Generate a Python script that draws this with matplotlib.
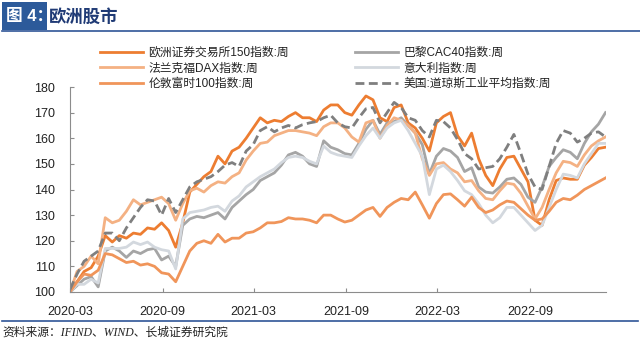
import matplotlib
matplotlib.use("Agg")
import matplotlib.pyplot as plt
import matplotlib.dates as mdates
import pandas as pd
import numpy as np

plt.rcParams['font.family'] = ['Liberation Sans', 'Noto Sans CJK SC', 'DejaVu Sans']

# ---- data (bi-weekly readings, index = 100 at start) ----
start_date = "2020-03-20"
n_points = 77

euronext150 = [100, 104, 108, 109.5, 114, 122, 119.5, 122, 121, 123, 122.5, 125, 124.5, 127, 124, 117.5,
               127, 139, 142, 145, 147, 153, 150, 155, 156.5, 160, 164, 168, 166, 167, 166.5, 168.5,
               170, 168, 168, 166.5, 171, 173, 173, 170, 169, 173, 176.5, 175, 168, 166.5, 172, 173,
               166, 164, 160, 155, 166, 168.5, 170, 161, 157, 162, 152, 145.5, 141.5, 148, 152.5, 153,
               148, 143, 128, 126, 136, 143.5, 144.5, 144, 144, 149.5, 152.5, 156, 156.5]
cac40 = [100, 102.5, 105, 106, 102, 116, 117.5, 116, 113.5, 116, 115, 116.5, 117, 112.5, 114, 110,
         126, 128.5, 129.5, 129, 130, 131, 128.5, 133, 135.5, 138, 140, 143.5, 145, 146.5, 149.5, 153.5,
         154.5, 153, 150, 149, 159, 156.5, 155.5, 154, 153.5, 158, 163.5, 167, 161.5, 166, 166.5, 168,
         165, 162, 157.5, 146, 153, 156, 155, 152.5, 147, 148.5, 141, 139, 138.6, 141, 144, 144.5,
         142, 137, 135, 141, 149, 152.5, 155.5, 154.5, 152, 158, 162.5, 165.5, 170]
dax = [100, 108, 110, 114, 111, 129, 127, 128, 131.5, 136, 134, 135, 136, 137, 134.5, 128,
       134.5, 139.5, 140.5, 139, 141.5, 143, 142.5, 145, 146.5, 151.5, 155, 158, 158.5, 161, 162, 163,
       163, 162.5, 162, 161, 164.5, 166, 166, 164, 160.5, 158.5, 166, 167, 160, 165, 168, 167,
       165, 162, 152, 145.5, 150, 150.5, 148, 146.5, 143, 143.5, 139.5, 136.5, 136, 139.5, 142.5, 142,
       138.5, 133.5, 128.5, 133, 140, 146.5, 151, 150.5, 149, 153.5, 157, 159, 160.5]
italy = [100, 103, 103, 105, 103.5, 117, 117, 117, 117.5, 119.5, 118.5, 119.5, 117.5, 116.5, 116, 109,
         128.5, 131, 131.5, 132, 133, 133.5, 131.5, 135.5, 137.5, 141, 143, 145, 146.5, 148, 150.5, 152.5,
         153, 152.5, 151, 150, 157, 154.5, 153.5, 153, 152.5, 157, 161, 164, 160, 164, 166, 167,
         163, 158, 153, 138, 148, 149.5, 147, 143.5, 139.5, 138, 134.5, 130, 127, 129, 133, 133,
         130, 127, 124, 126, 133, 140, 146, 145.5, 144.5, 150, 154, 158, 158]
ftse100 = [100, 104, 107, 106.5, 108.5, 115, 114.5, 113, 111.5, 112, 110.5, 111, 110, 107.5, 107, 104,
           110, 116, 119, 120, 119, 122.5, 119.5, 121, 121, 123, 123.5, 125, 127, 127, 127.5, 129,
           128.5, 128.5, 128, 127, 130, 130, 128.5, 127.3, 128, 130, 132, 133, 129.5, 133, 135, 136.5,
           136, 139, 134, 128.8, 134.5, 138, 138.3, 136, 133.5, 137, 133, 131, 132, 134, 135.5, 135,
           132.5, 130, 128, 128.5, 131.5, 135, 136.5, 136, 137.8, 140, 141.5, 143, 144.5]
dow = [101, 107, 112, 114, 116, 123, 123, 120, 125, 129, 133, 136, 135.5, 130, 136.5, 131,
       136, 141, 143, 144, 145, 147, 149.5, 150.5, 149, 155, 157.5, 163, 164.5, 162.5, 164, 165,
       164, 165.3, 166, 166.5, 168, 169, 166, 164.5, 164, 168, 171.5, 172, 166, 170, 174, 172,
       168, 167, 163, 160.5, 167, 166.5, 164, 159.5, 154, 152, 148, 148.5, 149, 152, 156.5, 161.5,
       154, 146, 141, 140, 149, 158, 163, 162, 158.5, 160, 162, 162.5, 160.5]

labels = ["欧洲证券交易所150指数:周", "巴黎CAC40指数:周", "法兰克福DAX指数:周",
          "意大利指数:周", "伦敦富时100指数:周", "美国:道琼斯工业平均指数:周"]
y_ticks = [100, 110, 120, 130, 140, 150, 160, 170, 180]
x_tick_labels = ["2020-03", "2020-09", "2021-03", "2021-09", "2022-03", "2022-09"]

title_tag = "图 4："
title_text = "欧洲股市"
source_text = "资料来源：IFIND、WIND、长城证券研究院"

dates = pd.date_range(start_date, periods=n_points, freq="14D")

# ---- figure ----
fig = plt.figure(figsize=(6.4, 3.44), dpi=100)
ax = fig.add_axes([70/640, 1-292/344, 536/640, 205/344])

series = [
    (euronext150, "#ED7D31", "-", labels[0]),
    (cac40, "#A5A5A5", "-", labels[1]),
    (dax, "#F4B183", "-", labels[2]),
    (italy, "#D3D8DE", "-", labels[3]),
    (ftse100, "#F0955A", "-", labels[4]),
    (dow, "#7F7F7F", (0, (3.2, 1.6)), labels[5]),
]
handles = {}
for vals, col, ls, lab in series:
    ln, = ax.plot(dates, vals, color=col, lw=2.0, linestyle=ls, label=lab, solid_joinstyle='round')
    handles[lab] = ln

ax.set_ylim(100, 180)
ax.set_yticks(y_ticks)
ax.set_xlim(dates[0], dates[-1] + pd.Timedelta(days=1))
xt = [dates[0] + pd.DateOffset(months=6*i) for i in range(len(x_tick_labels))]
ax.set_xticks(xt)
ax.set_xticklabels(x_tick_labels)

for s in ["top", "right"]:
    ax.spines[s].set_visible(False)
for s in ["left", "bottom"]:
    ax.spines[s].set_color("#8C8C8C")
    ax.spines[s].set_linewidth(0.8)
ax.tick_params(axis="both", direction="in", length=3, width=0.8, color="#8C8C8C",
               labelsize=9, labelcolor="#222222")
ax.tick_params(axis="y", pad=11)
ax.tick_params(axis="x", pad=10)

order = [labels[0], labels[2], labels[4], labels[1], labels[3], labels[5]]
leg = fig.legend([handles[l] for l in order], order, loc="upper left",
                 bbox_to_anchor=(100/640, 1-47/344), ncol=2, frameon=False,
                 fontsize=8.5, handlelength=3.6, handletextpad=0.5,
                 columnspacing=5.6, labelspacing=0.3, borderpad=0, borderaxespad=0)
for t in leg.get_texts():
    t.set_color("#222222")

# ---- title bar ----
fig.patches.append(matplotlib.patches.Rectangle((2/640, 1-30/344), 45/640, 28/344,
                   transform=fig.transFigure, facecolor="#2C5A9A", edgecolor="none"))
fig.text(6/640, 1-16/344, title_tag, color="white", fontsize=12, fontweight="bold",
         va="center", ha="left")
fig.text(49/640, 1-16/344, title_text, color="#1F3A75", fontsize=12.5, fontweight="bold",
         va="center", ha="left")
fig.add_artist(matplotlib.lines.Line2D([2/640, 1], [1-30.5/344, 1-30.5/344],
               transform=fig.transFigure, color="#2F5597", lw=1.2))

# ---- footer ----
fig.add_artist(matplotlib.lines.Line2D([2/640, 638/640], [1-320.5/344, 1-320.5/344],
               transform=fig.transFigure, color="#2F5597", lw=1.2))
fig.text(2/640, 1-333/344, source_text, fontsize=8.5, style="italic", color="#222222",
         va="center", ha="left", family=["Liberation Serif", "Noto Sans CJK SC"])

fig.savefig("out.png", dpi=100)
